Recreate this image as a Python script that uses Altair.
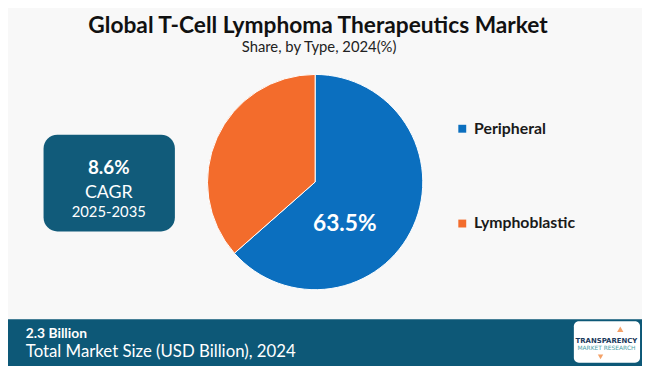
import altair as alt
import pandas as pd

# ---- data ----
types = ["Peripheral", "Lymphoblastic"]
shares = [63.5, 36.5]
colors = ["#0b6fbf", "#f36c2c"]
title_text = "Global T-Cell Lymphoma Therapeutics Market"
subtitle_text = "Share, by Type, 2024(%)"
cagr_value = "8.6%"
cagr_label = "CAGR"
cagr_period = "2025-2035"
market_value = "2.3 Billion"
market_label = "Total Market Size (USD Billion), 2024"
big_label = "63.5%"

W, H = 642, 358
CX, CY, R = 311, 174, 109

pie_df = pd.DataFrame({"type": types, "share": shares, "idx": [0, 1]})
one = pd.DataFrame({"a": [0]})

pie = alt.Chart(pie_df).mark_arc(radius=R, stroke="white", strokeWidth=1).encode(
    theta=alt.Theta("share:Q", stack=True),
    order=alt.Order("idx:Q"),
    color=alt.Color(
        "type:N",
        scale=alt.Scale(domain=types, range=colors),
        sort=types,
        legend=alt.Legend(
            title=None,
            orient="none",
            legendX=452,
            legendY=112,
            symbolType="square",
            symbolSize=64,
            symbolStrokeWidth=0,
            labelFont="Lato",
            labelFontWeight="bold",
            labelFontSize=16,
            labelColor="#1a1a1a",
            labelOffset=4,
            rowPadding=80,
        ),
    ),
    x=alt.value(CX),
    y=alt.value(CY),
)

pie_label = alt.Chart(one).mark_text(
    text=big_label, font="Lato", fontWeight="bold", fontSize=23, color="white",
    align="center", baseline="middle",
).encode(x=alt.value(341), y=alt.value(217))

def txt(text, x, y, size, weight="normal", color="#111111", align="center", font="Lato", baseline="alphabetic"):
    return alt.Chart(one).mark_text(
        text=text, font=font, fontSize=size, fontWeight=weight, color=color,
        align=align, baseline=baseline,
    ).encode(x=alt.value(x), y=alt.value(y))

title = txt(title_text, 314, 23, 23, "bold", "#111111")
subtitle = txt(subtitle_text, 315, 42, 15, "normal", "#222222")

box = alt.Chart(one).mark_rect(color="#115b7a", cornerRadius=14).encode(
    x=alt.value(36), x2=alt.value(169), y=alt.value(126), y2=alt.value(224)
)
box_t1 = txt(cagr_value, 102, 160, 19, "bold", "white", baseline="middle")
box_t2 = txt(cagr_label, 102, 185, 18, "normal", "white", baseline="middle")
box_t3 = txt(cagr_period, 102, 204, 15, "normal", "white", baseline="middle")

band = alt.Chart(one).mark_rect(color="#0d5877").encode(
    x=alt.value(-10), x2=alt.value(W + 10), y=alt.value(313), y2=alt.value(H + 10)
)
band_t1 = txt(market_value, 18, 332, 14, "bold", "white", align="left")
band_t2 = txt(market_label, 18, 351, 17, "normal", "white", align="left")

logo = alt.Chart(one).mark_rect(color="white", cornerRadius=5).encode(
    x=alt.value(573), x2=alt.value(640), y=alt.value(315), y2=alt.value(357)
)
logo_t1 = txt("TRANSPARENCY", 606, 337, 7, "bold", "#1b3a5c", font="DejaVu Sans")
logo_t2 = txt("MARKET RESEARCH", 606, 344, 6, "normal", "#4aa0a8", font="DejaVu Sans")
logo_arrow = alt.Chart(one).mark_point(shape="triangle-up", filled=True, color="#f07b2a", size=40).encode(
    x=alt.value(620), y=alt.value(323)
)
logo_arrow2 = alt.Chart(one).mark_point(shape="triangle-down", filled=True, color="#f07b2a", size=30).encode(
    x=alt.value(600), y=alt.value(351)
)

chart = alt.layer(
    band, logo, logo_t1, logo_t2, logo_arrow, logo_arrow2, band_t1, band_t2,
    box, box_t1, box_t2, box_t3,
    pie, pie_label, title, subtitle,
).properties(
    width=W, height=H, padding=0, autosize=alt.AutoSizeParams(type="none"),
    background="#f8f8f8",
).configure_view(stroke=None)

chart.save("out.html", embed_options={"renderer": "svg", "actions": False})
